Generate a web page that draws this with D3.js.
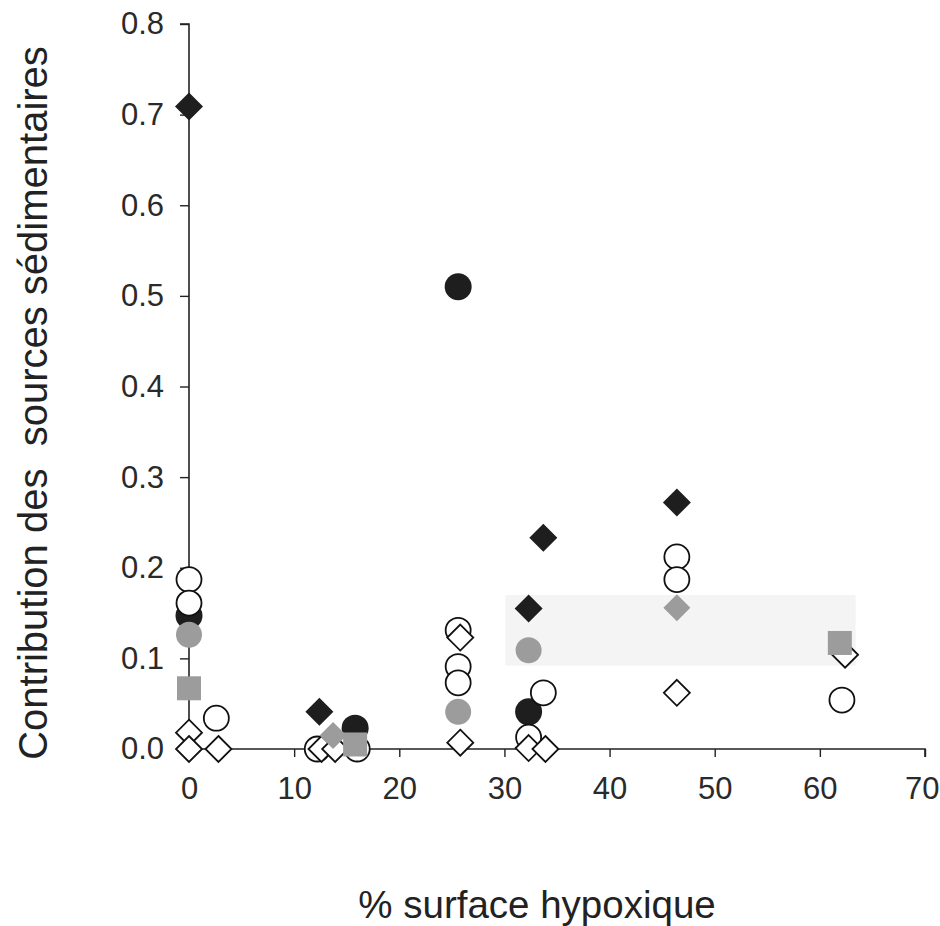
<!DOCTYPE html>
<html><head><meta charset="utf-8">
<script src="https://cdn.jsdelivr.net/npm/d3@7"></script>
<style>html,body{margin:0;padding:0;background:#fff;}svg{display:block;font-family:"Liberation Sans",Arial,sans-serif;}</style>
</head><body>
<svg id="chart" width="940" height="926"></svg>
<script>
// ---- data (x = % surface hypoxique, y = contribution) ----
const xTicks = [0, 10, 20, 30, 40, 50, 60, 70];
const yTicks = [0.0, 0.1, 0.2, 0.3, 0.4, 0.5, 0.6, 0.7, 0.8];
const xTitle = "% surface hypoxique";
const yTitle = "Contribution des  sources sédimentaires";

const blackCircleX = [0, 15.8, 25.6, 32.3];
const blackCircleY = [0.147, 0.023, 0.510, 0.041];
const grayCircleX = [0, 25.6, 32.3];
const grayCircleY = [0.126, 0.041, 0.109];
const openCircleX = [0, 0, 2.6, 12.2, 16.0, 25.6, 25.6, 25.6, 32.3, 33.7, 46.4, 46.4, 62.1];
const openCircleY = [0.187, 0.161, 0.034, 0.0, 0.0, 0.131, 0.091, 0.073, 0.013, 0.062, 0.212, 0.187, 0.054];
const openDiamondX = [0, 0, 2.8, 12.6, 13.9, 25.8, 25.8, 32.3, 33.9, 46.4, 62.4];
const openDiamondY = [0.018, 0.0, 0.0, 0.0, 0.0, 0.123, 0.007, 0.001, 0.0, 0.062, 0.104];
const blackDiamondX = [0, 12.4, 32.3, 33.7, 46.4];
const blackDiamondY = [0.709, 0.041, 0.155, 0.233, 0.272];
const grayDiamondX = [13.7, 46.4];
const grayDiamondY = [0.015, 0.156];
const graySquareX = [0, 15.8, 61.9];
const graySquareY = [0.067, 0.005, 0.117];

// ---- layout ----
const svg = d3.select("#chart");
const x = d3.scaleLinear().domain([0, 70]).range([189, 925]);
const y = d3.scaleLinear().domain([0, 0.8]).range([749, 24]);

// faint scan band (background artifact)
svg.append("rect").attr("x", x(30.1)).attr("y", y(0.17)).attr("width", x(63.4) - x(30.1))
  .attr("height", y(0.092) - y(0.17)).attr("fill", "#f4f4f4");

// axes
const yAxis = svg.append("g").attr("transform", `translate(${x(0)},0)`)
  .call(d3.axisLeft(y).tickValues(yTicks).tickFormat(d3.format(".1f")).tickSize(9).tickPadding(16));
const xAxis = svg.append("g").attr("transform", `translate(0,${y(0)})`)
  .call(d3.axisBottom(x).tickValues(xTicks).tickFormat(d3.format("d")).tickSize(8).tickPadding(31));
[yAxis, xAxis].forEach(a => {
  a.select(".domain").attr("stroke", "#222").attr("stroke-width", 1.6);
  a.selectAll(".tick line").attr("stroke", "#222").attr("stroke-width", 1.4);
  a.selectAll("text").attr("fill", "#2a2a2a").style("font-size", "31px")
    .style("font-family", '"Liberation Sans",Arial,sans-serif');
});
yAxis.select(".domain").attr("d", `M-9,${y(0.8)}H0V${y(0)}`);
xAxis.select(".domain").attr("d", `M${x(0)},0H${x(70)}V8`);
xAxis.selectAll("text").attr("dy", "0.36em");
xAxis.selectAll(".tick").filter(d => d === 70).select("text").attr("text-anchor", "end").attr("x", 939 - x(70));

// titles
svg.append("text").attr("x", 537).attr("y", 918).attr("text-anchor", "middle")
  .style("font-size", "38.5px").attr("fill", "#222").text(xTitle);
svg.append("text").attr("transform", "translate(47,403) rotate(-90)").attr("text-anchor", "middle")
  .style("font-size", "40px").style("white-space", "pre").attr("fill", "#222").text(yTitle);

// markers
const pts = (xs, ys) => xs.map((v, i) => [v, ys[i]]);
const g = svg.append("g");
function circles(data, fill, r) {
  g.selectAll(null).data(data).enter().append("circle")
    .attr("cx", d => x(d[0])).attr("cy", d => y(d[1])).attr("r", r)
    .attr("fill", fill).attr("stroke", fill === "#fff" ? "#111" : "none").attr("stroke-width", 1.8);
}
function diamonds(data, fill, h) {
  g.selectAll(null).data(data).enter().append("path")
    .attr("d", d => `M${x(d[0])},${y(d[1]) - h}L${x(d[0]) + h},${y(d[1])}L${x(d[0])},${y(d[1]) + h}L${x(d[0]) - h},${y(d[1])}Z`)
    .attr("fill", fill).attr("stroke", fill === "#fff" ? "#111" : "none").attr("stroke-width", 1.8);
}
function squares(data, fill, s) {
  g.selectAll(null).data(data).enter().append("rect")
    .attr("x", d => x(d[0]) - s / 2).attr("y", d => y(d[1]) - s / 2)
    .attr("width", s).attr("height", s).attr("fill", fill);
}
circles(pts(blackCircleX, blackCircleY), "#1e1e1e", 13.5);
circles(pts(grayCircleX, grayCircleY), "#9c9c9c", 13);
circles(pts(openCircleX, openCircleY), "#fff", 12.5);
diamonds(pts(openDiamondX, openDiamondY), "#fff", 13);
diamonds(pts(blackDiamondX, blackDiamondY), "#1e1e1e", 14);
diamonds(pts(grayDiamondX, grayDiamondY), "#9c9c9c", 13.5);
squares(pts(graySquareX, graySquareY), "#9c9c9c", 24);
</script>
</body></html>
